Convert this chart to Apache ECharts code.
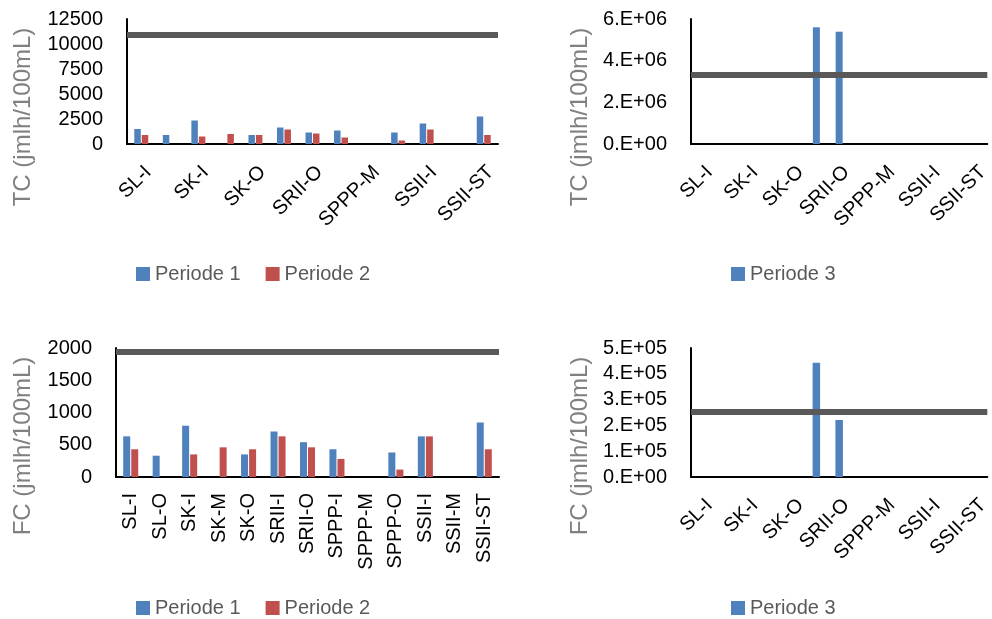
<!DOCTYPE html>
<html>
<head>
<meta charset="utf-8">
<script src="https://cdn.jsdelivr.net/npm/echarts@6/dist/echarts.min.js"></script>
<style>
html,body{margin:0;padding:0;background:#fff;}
#main{width:992px;height:619px;}
</style>
</head>
<body>
<div id="main"></div>
<script>
// ---- data ----
var categories = ['SL-I','SL-O','SK-I','SK-M','SK-O','SRII-I','SRII-O','SPPP-I','SPPP-M','SPPP-O','SSII-I','SSII-M','SSII-ST'];
var tcPeriode1 = [1500, 900, 2350, null, 900, 1650, 1150, 1350, null, 1150, 2050, null, 2750];
var tcPeriode2 = [900, null, 750, 1000, 900, 1450, 1050, 650, null, 350, 1450, null, 900];
var tcPeriode3 = [null, null, null, null, null, 5600000, 5390000, null, null, null, null, null, null];
var fcPeriode1 = [630, 330, 795, null, 350, 705, 540, 430, null, 380, 630, null, 845];
var fcPeriode2 = [430, null, 350, 460, 430, 630, 460, 280, null, 115, 630, null, 430];
var fcPeriode3 = [null, null, null, null, null, 443000, 221000, null, null, null, null, null, null];
var tcLimit12 = 10950;
var tcLimit3 = 3330000;
var fcLimit12 = 1940;
var fcLimit3 = 253000;
var tcTicks12 = {min: 0, max: 12500, interval: 2500};
var tcTicks3 = {min: 0, max: 6000000, interval: 2000000};
var fcTicks12 = {min: 0, max: 2000, interval: 500};
var fcTicks3 = {min: 0, max: 500000, interval: 100000};
var tcTitle = 'TC (jmlh/100mL)';
var fcTitle = 'FC (jmlh/100mL)';

// ---- styling ----
var BLUE = '#4f81bd', RED = '#c0504d', LINE = '#595959';
var FONT = 'Liberation Sans';

function plain(v) { return String(v); }
function sci(v) {
  if (v === 0) return '0.E+00';
  var e = Math.floor(Math.log10(v) + 1e-9);
  var m = Math.round(v / Math.pow(10, e));
  return m + '.E+' + (e < 10 ? '0' + e : e);
}

function xAxis(gi, rot, margin) {
  var lab = {interval: rot === 90 ? 0 : 1, rotate: rot, margin: margin, color: '#000', fontSize: 20, fontFamily: FONT};
  if (rot === 45) lab.verticalAlign = 'top';
  return {
    type: 'category', gridIndex: gi, data: categories,
    axisLine: {show: true, lineStyle: {color: '#000', width: 2}},
    axisTick: {show: false},
    axisLabel: lab
  };
}
function yAxis(gi, t, fmt) {
  return {
    type: 'value', gridIndex: gi, min: t.min, max: t.max, interval: t.interval,
    axisLine: {show: true, lineStyle: {color: '#000', width: 2}},
    axisTick: {show: false},
    splitLine: {show: false},
    axisLabel: {color: '#000', fontSize: 20, fontFamily: FONT, margin: 24, formatter: fmt}
  };
}
function limitLine(v) {
  return {
    silent: true, symbol: 'none', label: {show: false},
    lineStyle: {color: LINE, width: 6, type: 'solid'},
    data: [{yAxis: v}]
  };
}
function bar(name, data, gi, color, width, ml) {
  var s = {
    name: name, type: 'bar', xAxisIndex: gi, yAxisIndex: gi, data: data,
    barWidth: width, barGap: '15%', itemStyle: {color: color}, animation: false
  };
  if (ml !== undefined) s.markLine = limitLine(ml);
  return s;
}
function vtitle(text, x, y) {
  return {type: 'text', x: x, y: y, rotation: Math.PI / 2,
    style: {text: text, fill: '#808080', font: '24px "' + FONT + '"', align: 'center', verticalAlign: 'middle'}};
}
function legend(names, left, top) {
  return {data: names, left: left, top: top, itemWidth: 14, itemHeight: 14, itemGap: 25,
    icon: 'rect', textStyle: {color: '#595959', fontSize: 20, fontFamily: FONT}, selectedMode: false};
}

var chart = echarts.init(document.getElementById('main'));
chart.setOption({
  animation: false,
  backgroundColor: '#fff',
  grid: [
    {left: 127, top: 19, width: 371, height: 125},
    {left: 691, top: 19, width: 301, height: 125},
    {left: 116, top: 348, width: 383, height: 129},
    {left: 691, top: 348, width: 301, height: 129}
  ],
  xAxis: [xAxis(0, 45, 18), xAxis(1, 45, 18), xAxis(2, 90, 16), xAxis(3, 45, 18)],
  yAxis: [yAxis(0, tcTicks12, plain), yAxis(1, tcTicks3, sci), yAxis(2, fcTicks12, plain), yAxis(3, fcTicks3, sci)],
  legend: [
    legend(['Periode 1', 'Periode 2'], 131, 259),
    legend(['Periode 3'], 726, 259),
    legend(['Periode 1', 'Periode 2'], 131, 593),
    legend(['Periode 3'], 726, 593)
  ],
  graphic: [vtitle(tcTitle, 23, 117), vtitle(tcTitle, 580, 117), vtitle(fcTitle, 23, 446), vtitle(fcTitle, 580, 446)],
  series: [
    bar('Periode 1', tcPeriode1, 0, BLUE, 6.5, tcLimit12),
    bar('Periode 2', tcPeriode2, 0, RED, 6.5),
    bar('Periode 3', tcPeriode3, 1, BLUE, 7, tcLimit3),
    bar('Periode 1', fcPeriode1, 2, BLUE, 7, fcLimit12),
    bar('Periode 2', fcPeriode2, 2, RED, 7),
    bar('Periode 3', fcPeriode3, 3, BLUE, 7.5, fcLimit3)
  ]
});
</script>
</body>
</html>
